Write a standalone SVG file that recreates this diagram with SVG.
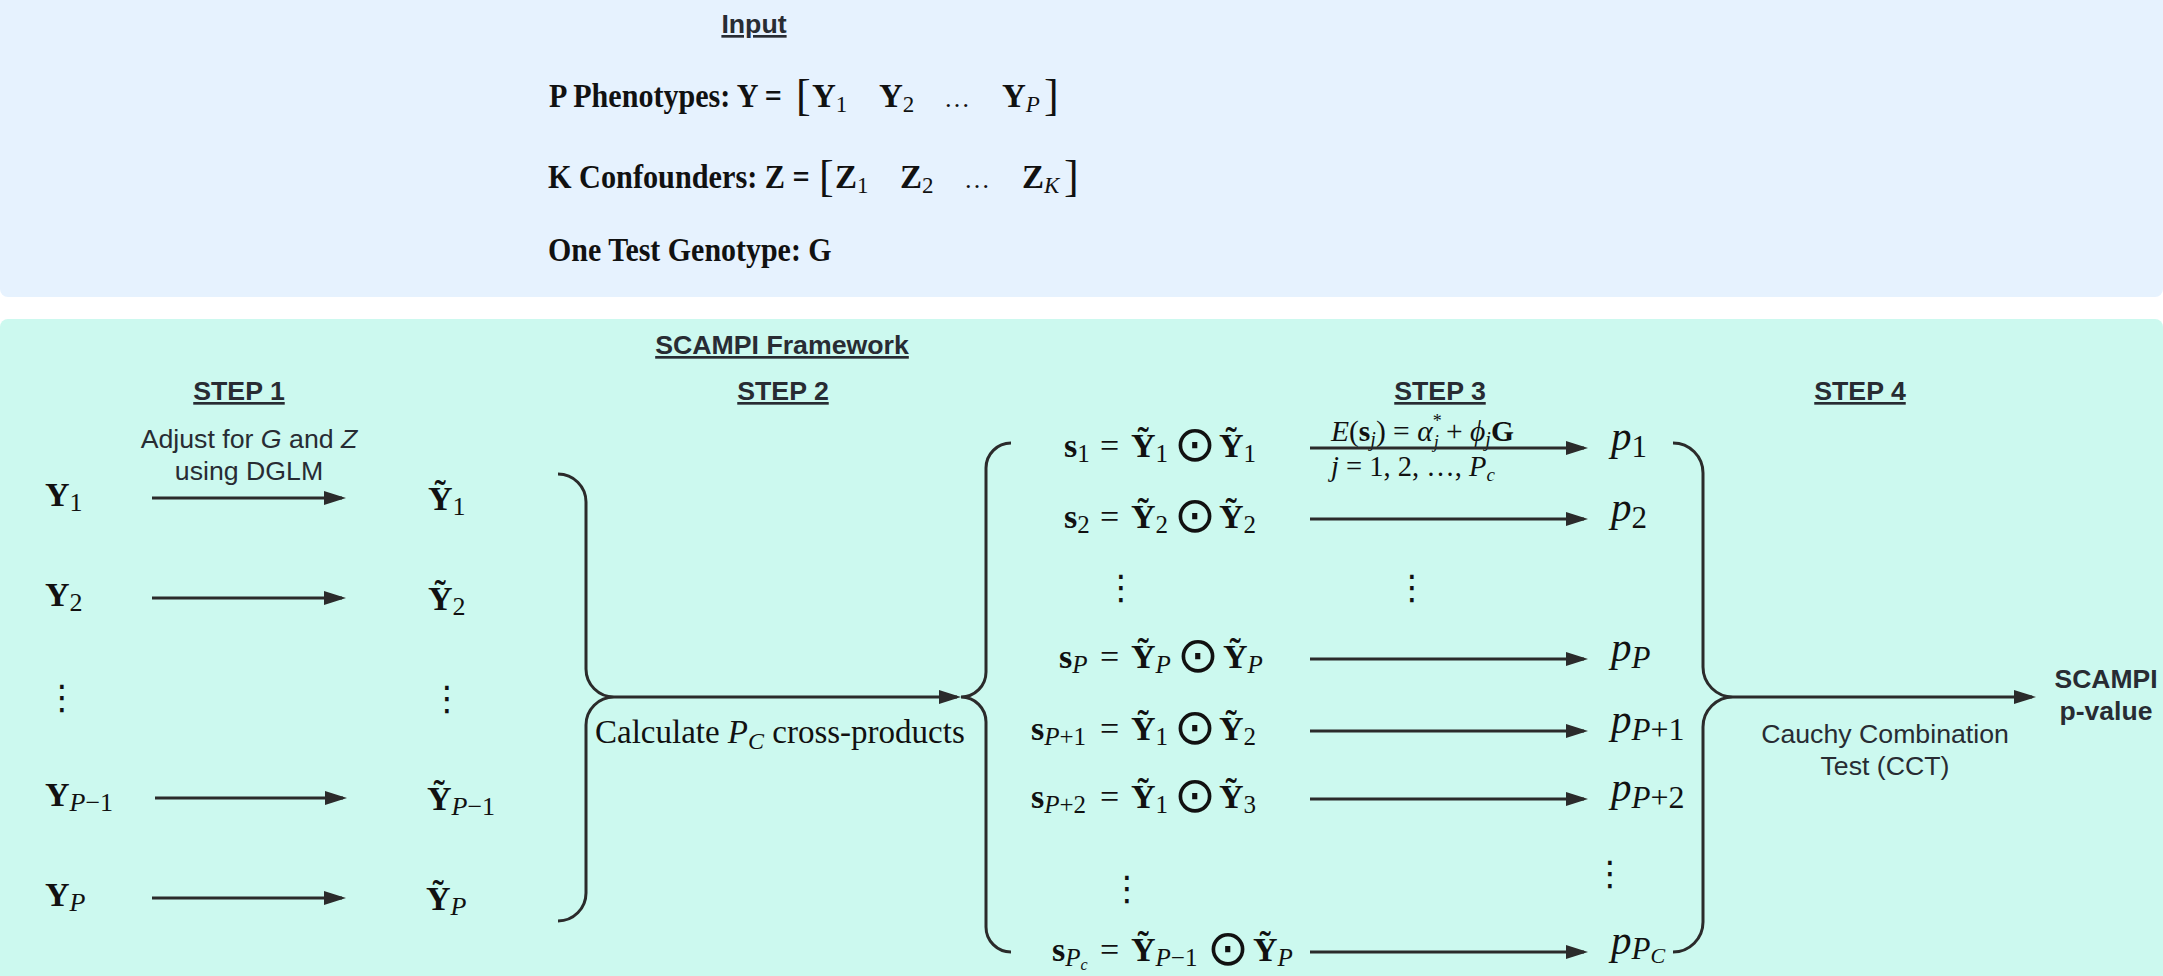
<svg xmlns="http://www.w3.org/2000/svg" width="2163" height="976" viewBox="0 0 2163 976">
<defs>
<marker id="ah" markerUnits="userSpaceOnUse" markerWidth="22" markerHeight="14" refX="18" refY="7" orient="auto"><path d="M0,0 L22,7 L0,14 z" fill="#2b2b2b"/></marker>
</defs>
<style>
.sans{font-family:"Liberation Sans",Arial,sans-serif;fill:#282c33}
.hd{font-weight:bold;font-size:26.7px;text-decoration:underline;text-anchor:middle}
.lbl{font-size:26.7px;text-anchor:middle}
.bl{font-weight:bold;font-size:26.5px;text-anchor:middle}
.m{font-family:"Liberation Serif","Times New Roman",serif;fill:#111}
.b{font-weight:bold}
.i{font-style:italic}
.sym{font-family:"DejaVu Sans",sans-serif;fill:#111;text-anchor:middle}
.ln{fill:none;stroke:#2b2b2b;stroke-width:3}
.arr{fill:none;stroke:#2b2b2b;stroke-width:3;marker-end:url(#ah)}
</style>

<g id="input-panel">
<rect x="0" y="-10" width="2163" height="307" rx="8" fill="#E6F2FE"/>
<text class="sans hd" x="754" y="33">Input</text>
<g id="phenotypes">
<text class="m b" transform="translate(549,107) scale(0.885,1)" x="0" y="0" font-size="34">P Phenotypes: Y =</text>
<text class="m" x="796" y="110" font-size="44">[</text>
<text class="m b" x="812" y="107" font-size="33">Y<tspan font-weight="normal" font-size="23" dy="5">1</tspan></text>
<text class="m b" x="879" y="107" font-size="33">Y<tspan font-weight="normal" font-size="23" dy="5">2</tspan></text>
<text class="m" x="944" y="107" font-size="26">…</text>
<text class="m b" x="1002" y="107" font-size="33">Y<tspan class="i" font-weight="normal" font-size="23" dy="5">P</tspan></text>
<text class="m" x="1044" y="110" font-size="44">]</text>
</g>
<g id="confounders">
<text class="m b" transform="translate(548,188) scale(0.89,1)" x="0" y="0" font-size="34">K Confounders: Z =</text>
<text class="m" x="819" y="191" font-size="44">[</text>
<text class="m b" x="835" y="188" font-size="33">Z<tspan font-weight="normal" font-size="23" dy="5">1</tspan></text>
<text class="m b" x="900" y="188" font-size="33">Z<tspan font-weight="normal" font-size="23" dy="5">2</tspan></text>
<text class="m" x="964" y="188" font-size="26">…</text>
<text class="m b" x="1022" y="188" font-size="33">Z<tspan class="i" font-weight="normal" font-size="23" dy="5">K</tspan></text>
<text class="m" x="1064" y="191" font-size="44">]</text>
</g>
<g id="genotype">
<text class="m b" transform="translate(548,261) scale(0.881,1)" x="0" y="0" font-size="34">One Test Genotype: G</text>
</g>
</g>

<g id="framework-panel">
<rect x="0" y="319" width="2163" height="667" rx="8" fill="#CCF9EF"/>
<text class="sans hd" x="782" y="354">SCAMPI Framework</text>
<text class="sans hd" x="239" y="400">STEP 1</text>
<text class="sans hd" x="783" y="400">STEP 2</text>
<text class="sans hd" x="1440" y="400">STEP 3</text>
<text class="sans hd" x="1860" y="400">STEP 4</text>
</g>

<g id="step1-label">
<text class="sans lbl" x="249" y="448">Adjust for <tspan font-style="italic">G</tspan> and <tspan font-style="italic">Z</tspan></text>
<text class="sans lbl" x="249" y="480">using DGLM</text>
</g>

<g id="Y1"><text class="m b" x="45" y="506" font-size="34">Y<tspan font-weight="normal" font-size="26" dy="5">1</tspan></text></g>
<g id="Y2"><text class="m b" x="45" y="606" font-size="34">Y<tspan font-weight="normal" font-size="26" dy="5">2</tspan></text></g>
<g id="Ydots"><text class="sym" x="62" y="709" font-size="34">⋮</text></g>
<g id="YPm1"><text class="m b" x="45" y="806" font-size="34">Y<tspan class="i" font-weight="normal" font-size="26" dy="5">P</tspan><tspan font-weight="normal" font-size="26">−1</tspan></text></g>
<g id="YP"><text class="m b" x="45" y="906" font-size="34">Y<tspan class="i" font-weight="normal" font-size="26" dy="5">P</tspan></text></g>

<g id="Yt1"><text class="m b" x="428" y="510" font-size="34">Ỹ<tspan font-weight="normal" font-size="26" dy="5">1</tspan></text></g>
<g id="Yt2"><text class="m b" x="428" y="610" font-size="34">Ỹ<tspan font-weight="normal" font-size="26" dy="5">2</tspan></text></g>
<g id="Ytdots"><text class="sym" x="447" y="710" font-size="34">⋮</text></g>
<g id="YtPm1"><text class="m b" x="427" y="810" font-size="34">Ỹ<tspan class="i" font-weight="normal" font-size="26" dy="5">P</tspan><tspan font-weight="normal" font-size="26">−1</tspan></text></g>
<g id="YtP"><text class="m b" x="426" y="910" font-size="34">Ỹ<tspan class="i" font-weight="normal" font-size="26" dy="5">P</tspan></text></g>

<g id="step2-label">
<text class="m" x="595" y="743" font-size="33">Calculate <tspan class="i">P</tspan><tspan class="i" font-size="24" dy="6">C</tspan><tspan dy="-6"> cross-products</tspan></text>
</g>

<g id="s1">
<text class="m b" x="1064" y="457" font-size="34">s<tspan font-weight="normal" font-size="25" dy="5">1</tspan></text>
<text class="m" x="1100" y="457" font-size="34">=</text>
<text class="m b" x="1131" y="457" font-size="34">Ỹ<tspan font-weight="normal" font-size="25" dy="5">1</tspan></text>
<text class="sym" x="1195" y="461" font-size="50">⊙</text>
<text class="m b" x="1219" y="457" font-size="34">Ỹ<tspan font-weight="normal" font-size="25" dy="5">1</tspan></text>
</g>
<g id="s2">
<text class="m b" x="1064" y="528" font-size="34">s<tspan font-weight="normal" font-size="25" dy="5">2</tspan></text>
<text class="m" x="1100" y="528" font-size="34">=</text>
<text class="m b" x="1131" y="528" font-size="34">Ỹ<tspan font-weight="normal" font-size="25" dy="5">2</tspan></text>
<text class="sym" x="1195" y="532" font-size="50">⊙</text>
<text class="m b" x="1219" y="528" font-size="34">Ỹ<tspan font-weight="normal" font-size="25" dy="5">2</tspan></text>
</g>
<g id="sdots"><text class="sym" x="1121" y="599" font-size="34">⋮</text></g>
<g id="mdots"><text class="sym" x="1412" y="599" font-size="34">⋮</text></g>
<g id="sP">
<text class="m b" x="1059" y="668" font-size="34">s<tspan class="i" font-weight="normal" font-size="25" dy="5">P</tspan></text>
<text class="m" x="1100" y="668" font-size="34">=</text>
<text class="m b" x="1131" y="668" font-size="34">Ỹ<tspan class="i" font-weight="normal" font-size="25" dy="5">P</tspan></text>
<text class="sym" x="1198" y="672" font-size="50">⊙</text>
<text class="m b" x="1223" y="668" font-size="34">Ỹ<tspan class="i" font-weight="normal" font-size="25" dy="5">P</tspan></text>
</g>
<g id="sP1">
<text class="m b" x="1031" y="740" font-size="34">s<tspan class="i" font-weight="normal" font-size="25" dy="5">P</tspan><tspan font-weight="normal" font-size="25">+1</tspan></text>
<text class="m" x="1100" y="740" font-size="34">=</text>
<text class="m b" x="1131" y="740" font-size="34">Ỹ<tspan font-weight="normal" font-size="25" dy="5">1</tspan></text>
<text class="sym" x="1195" y="744" font-size="50">⊙</text>
<text class="m b" x="1219" y="740" font-size="34">Ỹ<tspan font-weight="normal" font-size="25" dy="5">2</tspan></text>
</g>
<g id="sP2">
<text class="m b" x="1031" y="808" font-size="34">s<tspan class="i" font-weight="normal" font-size="25" dy="5">P</tspan><tspan font-weight="normal" font-size="25">+2</tspan></text>
<text class="m" x="1100" y="808" font-size="34">=</text>
<text class="m b" x="1131" y="808" font-size="34">Ỹ<tspan font-weight="normal" font-size="25" dy="5">1</tspan></text>
<text class="sym" x="1195" y="812" font-size="50">⊙</text>
<text class="m b" x="1219" y="808" font-size="34">Ỹ<tspan font-weight="normal" font-size="25" dy="5">3</tspan></text>
</g>
<g id="sdots2"><text class="sym" x="1127" y="900" font-size="34">⋮</text></g>
<g id="sPc">
<text class="m b" x="1052" y="961" font-size="34">s<tspan class="i" font-weight="normal" font-size="25" dy="5">P</tspan><tspan class="i" font-weight="normal" font-size="16" dy="4">c</tspan></text>
<text class="m" x="1100" y="961" font-size="34">=</text>
<text class="m b" x="1131" y="961" font-size="34">Ỹ<tspan class="i" font-weight="normal" font-size="25" dy="5">P</tspan><tspan font-weight="normal" font-size="25">−1</tspan></text>
<text class="sym" x="1228" y="965" font-size="50">⊙</text>
<text class="m b" x="1253" y="961" font-size="34">Ỹ<tspan class="i" font-weight="normal" font-size="25" dy="5">P</tspan></text>
</g>

<g id="step3-label">
<text class="m" x="1331" y="441" font-size="29.5"><tspan class="i">E</tspan>(<tspan class="b">s</tspan><tspan class="i" font-size="20" dy="5">j</tspan><tspan dy="-5">) = </tspan><tspan class="i">α</tspan><tspan font-size="18" dy="-14">*</tspan><tspan class="i" font-size="18" dx="-8" dy="21">j</tspan><tspan dy="-7"> + </tspan><tspan class="i">ϕ</tspan><tspan class="i" font-size="20" dy="5">j</tspan><tspan class="b" dy="-5">G</tspan></text>
<text class="m" x="1331" y="476" font-size="28.5"><tspan class="i">j</tspan> = 1, 2, …, <tspan class="i">P</tspan><tspan class="i" font-size="19" dy="5">c</tspan></text>
</g>

<g id="p1"><text class="m i" x="1611" y="450" font-size="41">p<tspan font-style="normal" font-size="31" dy="7">1</tspan></text></g>
<g id="p2"><text class="m i" x="1611" y="521" font-size="41">p<tspan font-style="normal" font-size="31" dy="7">2</tspan></text></g>
<g id="pP"><text class="m i" x="1611" y="661" font-size="41">p<tspan font-size="31" dy="7">P</tspan></text></g>
<g id="pP1"><text class="m i" x="1611" y="733" font-size="41">p<tspan font-size="31" dy="7">P</tspan><tspan font-style="normal" font-size="32">+1</tspan></text></g>
<g id="pP2"><text class="m i" x="1611" y="801" font-size="41">p<tspan font-size="31" dy="7">P</tspan><tspan font-style="normal" font-size="32">+2</tspan></text></g>
<g id="pdots"><text class="sym" x="1610" y="885" font-size="34">⋮</text></g>
<g id="pPc"><text class="m i" x="1611" y="954" font-size="41">p<tspan font-size="31" dy="5">P</tspan><tspan font-size="22" dy="4">C</tspan></text></g>

<g id="step4-label">
<text class="sans lbl" x="1885" y="743">Cauchy Combination</text>
<text class="sans lbl" x="1885" y="775">Test (CCT)</text>
</g>
<g id="result">
<text class="sans bl" x="2106" y="688">SCAMPI</text>
<text class="sans bl" x="2106" y="720">p-value</text>
</g>

<g id="connectors">
<path class="arr" d="M152,498 H342"/>
<path class="arr" d="M152,598 H342"/>
<path class="arr" d="M155,798 H343"/>
<path class="arr" d="M152,898 H342"/>
<path class="ln" d="M558,474 A28,28 0 0 1 586,502 V669 A28,28 0 0 0 614,697 A28,28 0 0 0 586,725 V893 A28,28 0 0 1 558,921"/>
<path class="arr" d="M614,697 H957"/>
<path class="ln" d="M1011,443 A25,25 0 0 0 986,468 V672 A25,25 0 0 1 961,697 A25,25 0 0 1 986,722 V927 A25,25 0 0 0 1011,952"/>
<path class="arr" d="M1310,448 H1584"/>
<path class="arr" d="M1310,519 H1584"/>
<path class="arr" d="M1310,659 H1584"/>
<path class="arr" d="M1310,731 H1584"/>
<path class="arr" d="M1310,799 H1584"/>
<path class="arr" d="M1310,952 H1584"/>
<path class="ln" d="M1673,443 A30,30 0 0 1 1703,473 V667 A30,30 0 0 0 1733,697 A30,30 0 0 0 1703,727 V922 A30,30 0 0 1 1673,952"/>
<path class="arr" d="M1733,697 H2032"/>
</g>
</svg>
